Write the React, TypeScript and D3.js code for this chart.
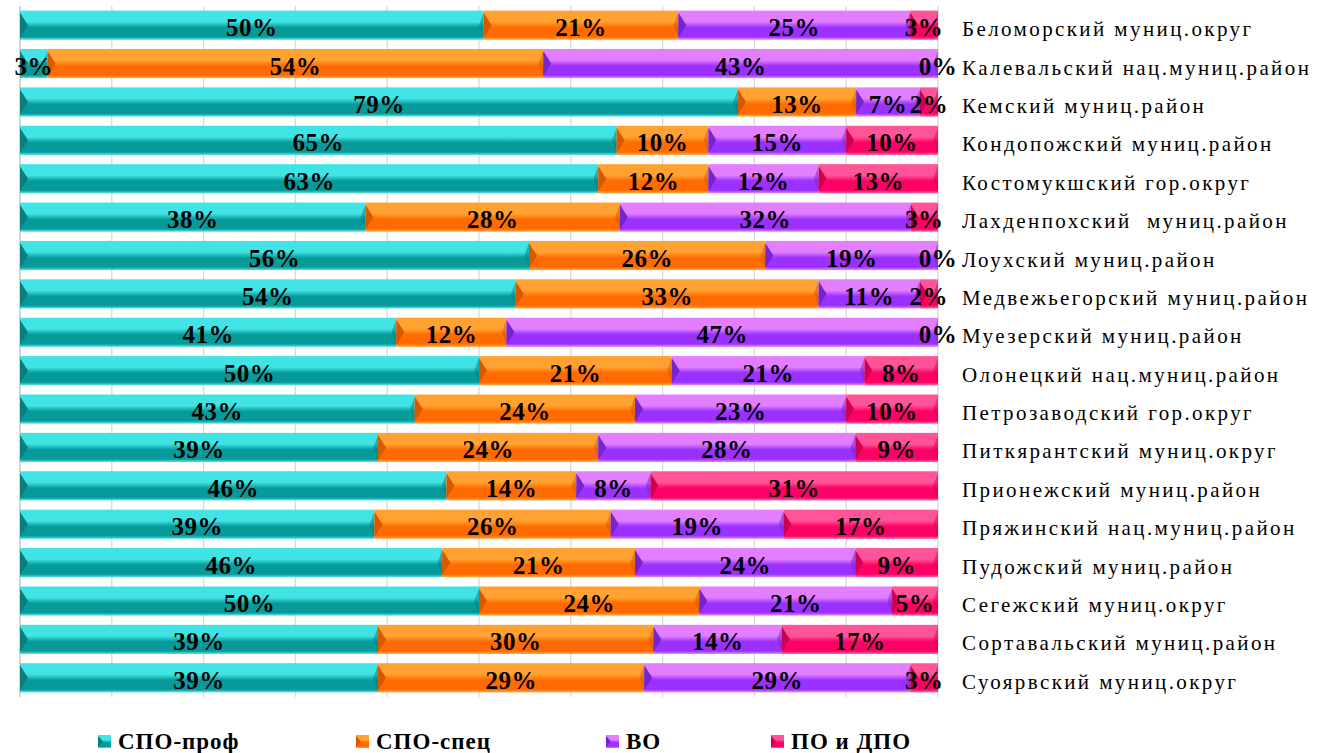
import React from "react";
import * as d3 from "d3";

const categories = [
  "Беломорский муниц.округ",
  "Калевальский нац.муниц.район",
  "Кемский муниц.район",
  "Кондопожский муниц.район",
  "Костомукшский гор.округ",
  "Лахденпохский  муниц.район",
  "Лоухский муниц.район",
  "Медвежьегорский муниц.район",
  "Муезерский муниц.район",
  "Олонецкий нац.муниц.район",
  "Петрозаводский гор.округ",
  "Питкярантский муниц.округ",
  "Прионежский муниц.район",
  "Пряжинский нац.муниц.район",
  "Пудожский муниц.район",
  "Сегежский муниц.округ",
  "Сортавальский муниц.район",
  "Суоярвский муниц.округ",
];

const seriesNames = ["СПО-проф", "СПО-спец", "ВО", "ПО и ДПО"];

const spoProf = [50, 3, 79, 65, 63, 38, 56, 54, 41, 50, 43, 39, 46, 39, 46, 50, 39, 39];
const spoSpec = [21, 54, 13, 10, 12, 28, 26, 33, 12, 21, 24, 24, 14, 26, 21, 24, 30, 29];
const vo = [25, 43, 7, 15, 12, 32, 19, 11, 47, 21, 23, 28, 8, 19, 24, 21, 14, 29];
const poDpo = [3, 0, 2, 10, 13, 3, 0, 2, 0, 8, 10, 9, 31, 17, 9, 5, 17, 3];

const colors = [
  { light: "#40E4E4", main: "#079A9A", dark: "#0A7E7E" },
  { light: "#FFA232", main: "#FF6B00", dark: "#D85800" },
  { light: "#E37EFF", main: "#9A31FF", dark: "#7624D0" },
  { light: "#FF5497", main: "#FF0066", dark: "#CF0052" },
];

const W = 1327;
const H = 753;
const left = 20;
const right = 938;
const top = 6;
const bottom = 697;
const serif = "'Liberation Serif', 'Times New Roman', serif";

type Row = { name: string; values: number[]; total: number };

export default function App() {
  const rows: Row[] = categories.map((name, i) => {
    const values = [spoProf[i], spoSpec[i], vo[i], poDpo[i]];
    return { name, values, total: d3.sum(values) };
  });

  const x = d3.scaleLinear().domain([0, 1]).range([left, right]);
  const y = d3
    .scaleBand<string>()
    .domain(categories)
    .range([top, bottom])
    .paddingInner(0.24)
    .paddingOuter(0.12);

  const stack = d3
    .stack<Row, number>()
    .keys([0, 1, 2, 3])
    .value((d, k) => d.values[k] / d.total);
  const layers = stack(rows);

  const bh = y.bandwidth();
  const ticks = d3.range(0, 1.0001, 0.1);

  const legendX = [98, 356, 606, 771];
  const legendBase = 749;

  return (
    <div style={{ position: "absolute", left: 0, top: 0 }}>
      <svg width={W} height={H} style={{ display: "block", background: "#fff" }}>
        <defs>
          {colors.map((c, i) => (
            <linearGradient key={i} id={`g${i}`} x1="0" y1="0" x2="0" y2="1">
              <stop offset="0" stopColor={c.light} />
              <stop offset="0.38" stopColor={c.light} />
              <stop offset="0.58" stopColor={c.main} />
              <stop offset="0.9" stopColor={c.main} />
              <stop offset="1" stopColor={c.light} stopOpacity="0.9" />
            </linearGradient>
          ))}
        </defs>

        {ticks.map((t, i) => (
          <line
            key={i}
            x1={x(t)}
            x2={x(t)}
            y1={top}
            y2={bottom}
            stroke={i === 0 ? "#bfbfbf" : "#d9d9d9"}
            strokeWidth={1.3}
          />
        ))}

        {layers.map((layer, si) => (
          <g key={si}>
            {layer.map((d, ri) => {
              const x0 = x(d[0]);
              const x1 = x(d[1]);
              const w = x1 - x0;
              const y0 = y(categories[ri])!;
              if (w <= 0) return null;
              const chev = Math.min(8, w / 2);
              return (
                <g key={ri}>
                  <rect x={x0} y={y0} width={w} height={bh} fill={`url(#g${si})`} />
                  <polygon
                    points={`${x0},${y0 + 2} ${x0 + chev},${y0 + bh / 2} ${x0},${y0 + bh - 2}`}
                    fill={colors[si].dark}
                  />
                  <polygon
                    points={`${x1},${y0 + 2} ${x1 - chev * 0.6},${y0 + bh / 2} ${x1},${y0 + bh - 2}`}
                    fill={colors[si].dark}
                    opacity={0.5}
                  />
                </g>
              );
            })}
          </g>
        ))}

        {layers.map((layer, si) => (
          <g key={`t${si}`}>
            {layer.map((d, ri) => (
              <text
                key={ri}
                x={(x(d[0]) + x(d[1])) / 2}
                y={y(categories[ri])! + bh / 2 + 11}
                textAnchor="middle"
                fontFamily={serif}
                fontWeight="bold"
                fontSize={25}
                letterSpacing={0.5}
                fill="#000"
              >
                {rows[ri].values[si]}%
              </text>
            ))}
          </g>
        ))}

        {categories.map((c) => (
          <text
            key={c}
            x={962}
            y={y(c)! + bh / 2 + 11}
            fontFamily={serif}
            fontSize={21}
            letterSpacing={2.4}
            fill="#000"
            style={{ whiteSpace: "pre" }}
          >
            {c}
          </text>
        ))}

        {seriesNames.map((s, i) => (
          <g key={s} transform={`translate(${legendX[i]},${legendBase})`}>
            <rect x={0} y={-14} width={13} height={13} fill={`url(#g${i})`} />
            <polygon points="0,-13 5,-7.5 0,-2" fill={colors[i].dark} />
            <text
              x={20}
              y={0}
              fontFamily={serif}
              fontWeight="bold"
              fontSize={23}
              letterSpacing={1}
              fill="#000"
              style={{ whiteSpace: "pre" }}
            >
              {s}
            </text>
          </g>
        ))}
      </svg>
    </div>
  );
}
